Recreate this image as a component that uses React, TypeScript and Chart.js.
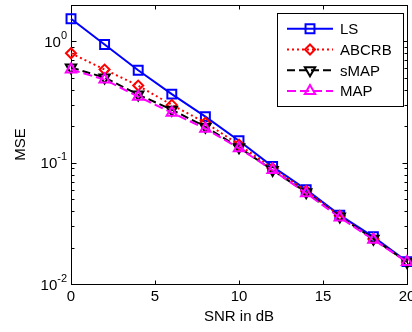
import React, { useEffect, useRef } from 'react';
import { Chart, registerables } from 'chart.js';

Chart.register(...registerables);

// ---- data ----
const snrDb = [0, 2, 4, 6, 8, 10, 12, 14, 16, 18, 20];
const lsMse = [1.54, 0.945, 0.579, 0.368, 0.24, 0.152, 0.093, 0.06, 0.037, 0.0245, 0.0153];
const abcrbMse = [0.8, 0.587, 0.433, 0.3, 0.214, 0.141, 0.09, 0.0585, 0.0365, 0.0235, 0.0152];
const smapMse = [0.61, 0.504, 0.365, 0.274, 0.198, 0.134, 0.087, 0.057, 0.036, 0.0236, 0.0152];
const mapMse = [0.587, 0.485, 0.351, 0.259, 0.191, 0.132, 0.087, 0.056, 0.0354, 0.0232, 0.0152];
const seriesNames = ['LS', 'ABCRB', 'sMAP', 'MAP'];
const xTickValues = [0, 5, 10, 15, 20];
const yRange = [0.01, 2];
const xTitle = 'SNR in dB';
const yTitle = 'MSE';

const FONT = '"Liberation Sans", Arial, Helvetica, sans-serif';

function drawMarker(ctx: CanvasRenderingContext2D, style: string, x: number, y: number, r: number, rotation: number) {
  ctx.beginPath();
  if (style === 'rect') {
    const s = Math.SQRT1_2 * r;
    ctx.rect(x - s, y - s, 2 * s, 2 * s);
  } else if (style === 'rectRot') {
    ctx.moveTo(x - r, y);
    ctx.lineTo(x, y - r);
    ctx.lineTo(x + r, y);
    ctx.lineTo(x, y + r);
    ctx.closePath();
  } else if (style === 'triangle') {
    let rad = (rotation * Math.PI) / 180;
    ctx.moveTo(x + Math.sin(rad) * r, y - Math.cos(rad) * r);
    rad += (2 * Math.PI) / 3;
    ctx.lineTo(x + Math.sin(rad) * r, y - Math.cos(rad) * r);
    rad += (2 * Math.PI) / 3;
    ctx.lineTo(x + Math.sin(rad) * r, y - Math.cos(rad) * r);
    ctx.closePath();
  }
  ctx.stroke();
}

const framePlugin = {
  id: 'matlabFrame',
  beforeDatasetsDraw(chart: any) {
    const ctx = chart.ctx as CanvasRenderingContext2D;
    const { left, right, top, bottom } = chart.chartArea;
    const L = Math.round(left) + 0.5;
    const R = Math.round(right) + 0.5;
    const T = Math.round(top) + 0.5;
    const B = Math.round(bottom) + 0.5;
    ctx.save();
    ctx.strokeStyle = '#000';
    ctx.lineWidth = 1;
    ctx.setLineDash([]);
    ctx.strokeRect(L, T, R - L, B - T);
    const ys = chart.scales.y;
    ys.ticks.forEach((t: any) => {
      const lg = Math.log10(t.value);
      const major = Math.abs(lg - Math.round(lg)) < 1e-9;
      const len = major ? 5 : 3;
      const py = Math.round(ys.getPixelForValue(t.value)) + 0.5;
      ctx.beginPath();
      ctx.moveTo(L, py);
      ctx.lineTo(L + len, py);
      ctx.moveTo(R, py);
      ctx.lineTo(R - len, py);
      ctx.stroke();
    });
    const xs = chart.scales.x;
    xs.ticks.forEach((t: any) => {
      const px = Math.round(xs.getPixelForValue(t.value)) + 0.5;
      ctx.beginPath();
      ctx.moveTo(px, B);
      ctx.lineTo(px, B - 4);
      ctx.moveTo(px, T);
      ctx.lineTo(px, T + 4);
      ctx.stroke();
    });
    ctx.restore();
  },
  afterDraw(chart: any) {
    const ctx = chart.ctx as CanvasRenderingContext2D;
    const ys = chart.scales.y;
    const { left } = chart.chartArea;
    ctx.save();
    ctx.fillStyle = '#000';
    ys.ticks.forEach((t: any) => {
      const lg = Math.log10(t.value);
      if (Math.abs(lg - Math.round(lg)) > 1e-9) return;
      const exp = String(Math.round(lg));
      const py = ys.getPixelForValue(t.value);
      ctx.font = '11px ' + FONT;
      const ew = ctx.measureText(exp).width;
      const xr = left - 4;
      ctx.textBaseline = 'alphabetic';
      ctx.textAlign = 'left';
      ctx.fillText(exp, xr - ew, py - 2.5);
      ctx.font = '15px ' + FONT;
      ctx.textAlign = 'right';
      ctx.fillText('10', xr - ew, py + 5.5);
    });
    ctx.restore();
  },
};

const legendPlugin = {
  id: 'matlabLegend',
  afterDraw(chart: any) {
    const ctx = chart.ctx as CanvasRenderingContext2D;
    const x0 = 277.5, y0 = 13.5, w = 126, h = 93;
    ctx.save();
    ctx.fillStyle = '#fff';
    ctx.fillRect(x0, y0, w, h);
    ctx.strokeStyle = '#000';
    ctx.lineWidth = 1;
    ctx.setLineDash([]);
    ctx.strokeRect(x0, y0, w, h);
    chart.data.datasets.forEach((ds: any, i: number) => {
      const y = y0 + 15.3 + i * 20.7;
      ctx.strokeStyle = ds.borderColor;
      ctx.lineWidth = ds.borderWidth;
      ctx.lineCap = 'butt';
      ctx.setLineDash(ds.borderDash || []);
      ctx.beginPath();
      ctx.moveTo(287, y);
      ctx.lineTo(333, y);
      ctx.stroke();
      ctx.setLineDash([]);
      drawMarker(ctx, ds.pointStyle, 310, y, ds.pointRadius, ds.pointRotation || 0);
      ctx.fillStyle = '#000';
      ctx.font = '15px ' + FONT;
      ctx.textAlign = 'left';
      ctx.textBaseline = 'alphabetic';
      ctx.fillText(ds.label, 340, y + 5.5);
    });
    ctx.restore();
  },
};

export default function App() {
  const canvasRef = useRef<HTMLCanvasElement | null>(null);

  useEffect(() => {
    document.body.style.margin = '0';
    const canvas = canvasRef.current;
    if (!canvas) return;

    const mk = (values: number[]) => snrDb.map((x, i) => ({ x, y: values[i] }));

    const common = {
      fill: false,
      tension: 0,
      clip: false as any,
      borderWidth: 2,
      pointBorderWidth: 2,
      pointBackgroundColor: 'rgba(0,0,0,0)',
      backgroundColor: 'rgba(0,0,0,0)',
    };

    const chart = new Chart(canvas, {
      type: 'line',
      data: {
        datasets: [
          {
            ...common,
            label: seriesNames[0],
            data: mk(lsMse),
            borderColor: '#0000ff',
            pointBorderColor: '#0000ff',
            pointStyle: 'rect',
            pointRadius: 6.3,
            order: 3,
          },
          {
            ...common,
            label: seriesNames[1],
            data: mk(abcrbMse),
            borderColor: '#ff0000',
            pointBorderColor: '#ff0000',
            borderDash: [2, 3],
            pointStyle: 'rectRot',
            pointRadius: 5,
            order: 2,
          },
          {
            ...common,
            label: seriesNames[2],
            data: mk(smapMse),
            borderColor: '#000000',
            pointBorderColor: '#000000',
            borderDash: [8, 4],
            pointStyle: 'triangle',
            pointRotation: 180,
            pointRadius: 6,
            order: 1,
          },
          {
            ...common,
            label: seriesNames[3],
            data: mk(mapMse),
            borderColor: '#ff00ff',
            pointBorderColor: '#ff00ff',
            borderDash: [9, 4],
            pointStyle: 'triangle',
            pointRadius: 6,
            order: 0,
          },
        ] as any,
      },
      options: {
        animation: false,
        responsive: false,
        devicePixelRatio: 1,
        layout: { autoPadding: false, padding: { top: 5, right: 5, left: 0, bottom: 0 } },
        plugins: {
          legend: { display: false },
          tooltip: { enabled: false },
        },
        scales: {
          x: {
            type: 'linear',
            min: 0,
            max: 20,
            grid: { display: false, drawTicks: false },
            border: { display: false },
            ticks: {
              color: '#000',
              font: { family: FONT, size: 15 },
              padding: 4,
              maxRotation: 0,
              autoSkip: false,
            },
            title: {
              display: true,
              text: xTitle,
              color: '#000',
              font: { family: FONT, size: 15 },
              padding: { top: 0, bottom: 6 },
            },
            afterBuildTicks: (s: any) => {
              s.ticks = xTickValues.map((v) => ({ value: v }));
            },
            afterFit: (s: any) => {
              s.height = 48;
              s.paddingLeft = 0;
              s.paddingRight = 0;
            },
          } as any,
          y: {
            type: 'logarithmic',
            min: yRange[0],
            max: yRange[1],
            grid: { display: false, drawTicks: false },
            border: { display: false },
            ticks: { display: false },
            title: {
              display: true,
              text: yTitle,
              color: '#000',
              font: { family: FONT, size: 15 },
              padding: { top: 12, bottom: 0 },
            },
            afterBuildTicks: (s: any) => {
              const out: any[] = [];
              const lo = Math.floor(Math.log10(s.min));
              const hi = Math.ceil(Math.log10(s.max));
              for (let k = lo; k <= hi; k++) {
                for (let m = 1; m <= 9; m++) {
                  const v = m * Math.pow(10, k);
                  if (v >= s.min * 0.9999 && v <= s.max * 1.0001) out.push({ value: v });
                }
              }
              s.ticks = out;
            },
            afterFit: (s: any) => {
              s.width = 71;
              s.paddingTop = 0;
              s.paddingBottom = 0;
            },
          } as any,
        },
      },
      plugins: [framePlugin, legendPlugin],
    } as any);

    return () => {
      chart.destroy();
    };
  }, []);

  return (
    <div style={{ width: 412, height: 332 }}>
      <canvas ref={canvasRef} width={412} height={332} style={{ display: 'block' }} />
    </div>
  );
}
